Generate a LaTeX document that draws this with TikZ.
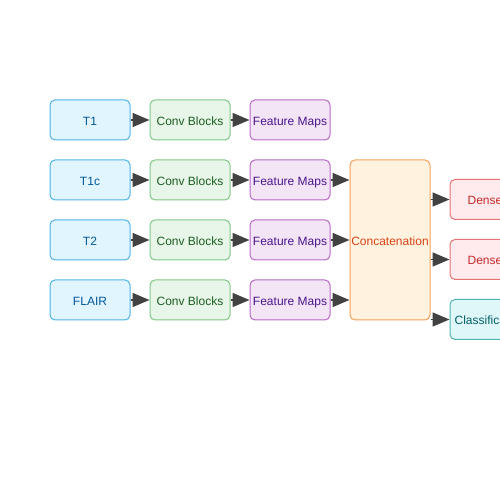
\documentclass[tikz,border=0pt]{standalone}
\usepackage{fontspec}
\setmainfont{Liberation Sans}
\usetikzlibrary{positioning,arrows.meta}
\definecolor{infill}{HTML}{E1F5FE}
\definecolor{indraw}{HTML}{4FB3E8}
\definecolor{intext}{HTML}{01579B}
\definecolor{convfill}{HTML}{E8F5E9}
\definecolor{convdraw}{HTML}{81C784}
\definecolor{convtext}{HTML}{1B5E20}
\definecolor{fmfill}{HTML}{F3E5F5}
\definecolor{fmdraw}{HTML}{BA68C8}
\definecolor{fmtext}{HTML}{4A148C}
\definecolor{catfill}{HTML}{FFF3E0}
\definecolor{catdraw}{HTML}{F5A05A}
\definecolor{cattext}{HTML}{D84315}
\definecolor{densefill}{HTML}{FFEBEE}
\definecolor{densedraw}{HTML}{E57373}
\definecolor{densetext}{HTML}{C62828}
\definecolor{clsfill}{HTML}{E0F7FA}
\definecolor{clsdraw}{HTML}{4DB6AC}
\definecolor{clstext}{HTML}{006064}
\definecolor{arrowgray}{HTML}{424242}
\begin{document}
\begin{tikzpicture}[x=1pt, y=1pt, node distance=19pt,
    box/.style={draw, rounded corners=5pt, minimum width=80pt, minimum height=40pt,
        inner sep=0pt, line width=1pt, text height=10.6pt, text depth=0pt,
        font=\fontsize{12}{14}\selectfont},
    inbox/.style={box, draw=indraw, fill=infill, text=intext},
    convbox/.style={box, draw=convdraw, fill=convfill, text=convtext},
    fmbox/.style={box, draw=fmdraw, fill=fmfill, text=fmtext},
    catbox/.style={box, draw=catdraw, fill=catfill, text=cattext, minimum height=160pt},
    densebox/.style={box, draw=densedraw, fill=densefill, text=densetext},
    clsbox/.style={box, draw=clsdraw, fill=clsfill, text=clstext},
    flow/.style={-{Triangle[length=17pt,width=14pt]}, line width=1.5pt, draw=arrowgray, fill=arrowgray}]
 \useasboundingbox (0,0) rectangle (500,500);
    % One branch per modality
 \foreach \name/\label [count=\i] in {t1/T1, t1c/T1c, t2/T2, flair/FLAIR} {
    \node[inbox] (\name) at (90, 440-60*\i) {\label};
    \node[convbox, right=of \name] (conv\i) {Conv Blocks};
    \node[fmbox, right=of conv\i] (fm\i) {Feature Maps};
    \draw[flow] (\name) -- (conv\i);
    \draw[flow] (conv\i) -- (fm\i);
 }
    % Fusion and head
 \node[catbox, right=of fm3] (cat) {Concatenation};
 \node[densebox, right=19pt of cat.north east, anchor=west, yshift=-40pt] (dense1) {Dense 1};
 \node[densebox, below=19pt of dense1] (dense2) {Dense 2};
 \node[clsbox, below=19pt of dense2] (cls) {Classification};
 \foreach \i in {2,3,4}
    \draw[flow] (fm\i.east) -- (fm\i.east -| cat.west);
 \foreach \out in {dense1, dense2, cls}
    \draw[flow] (cat.east |- \out.west) -- (\out.west);
\end{tikzpicture}
\end{document}
